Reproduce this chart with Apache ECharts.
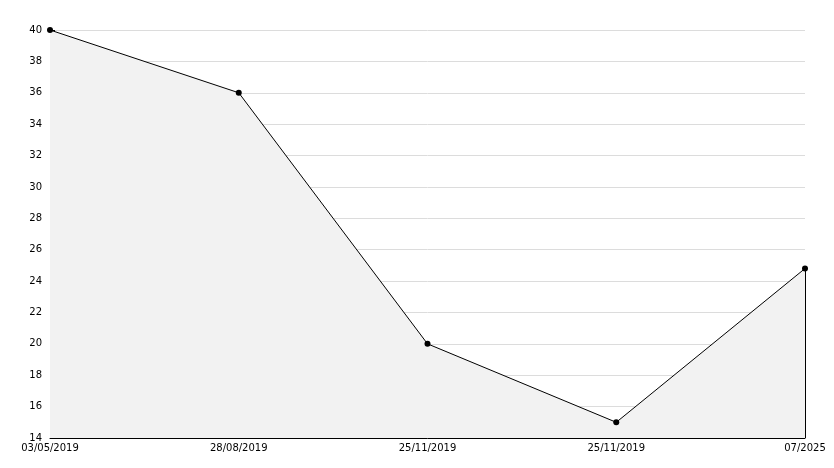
<!DOCTYPE html>
<html>
<head>
<meta charset="utf-8">
<script src="https://cdn.jsdelivr.net/npm/echarts@6/dist/echarts.min.js"></script>
<style>html,body{margin:0;padding:0;background:#fff}#c{width:834px;height:468px}</style>
</head>
<body>
<div id="c"></div>
<script>
var categories = ['03/05/2019', '28/08/2019', '25/11/2019', '25/11/2019', '07/2025'];
var values = [40, 36, 20, 15, 24.8];
var yMin = 14, yMax = 40, yStep = 2;

var chart = echarts.init(document.getElementById('c'), null, {renderer: 'canvas'});
var lastIdx = categories.length - 1;
chart.setOption({
  animation: false,
  grid: {left: 50, right: 29, top: 30, bottom: 30, containLabel: false},
  xAxis: {
    type: 'category',
    data: categories,
    boundaryGap: false,
    axisLine: {lineStyle: {color: '#000', width: 1}},
    axisTick: {show: true, inside: true, length: 5, lineStyle: {color: '#000'}},
    axisLabel: {color: '#000', fontFamily: 'DejaVu Sans', fontSize: 10, margin: 5, interval: 0},
    splitLine: {show: false}
  },
  yAxis: {
    type: 'value',
    min: yMin, max: yMax, interval: yStep,
    axisLine: {show: true, lineStyle: {color: '#000', width: 1}},
    axisTick: {show: true, inside: true, length: 5, lineStyle: {color: '#000'}},
    minorTick: {show: true, splitNumber: 2, length: 3, lineStyle: {color: '#000'}},
    axisLabel: {color: '#000', fontFamily: 'DejaVu Sans', fontSize: 10, margin: 8},
    splitLine: {show: true, lineStyle: {color: '#dcdcdc', width: 1}}
  },
  series: [{
    type: 'line',
    data: values,
    symbol: 'circle',
    symbolSize: 6,
    itemStyle: {color: '#000'},
    lineStyle: {color: '#000', width: 1},
    areaStyle: {color: '#f2f2f2', opacity: 1, origin: 'start'},
    markLine: {
      silent: true,
      symbol: ['none', 'none'],
      label: {show: false},
      lineStyle: {color: '#000', width: 1, type: 'solid'},
      data: [[{xAxis: lastIdx, yAxis: yMin}, {xAxis: lastIdx, yAxis: values[lastIdx]}]]
    }
  }]
});
</script>
</body>
</html>
